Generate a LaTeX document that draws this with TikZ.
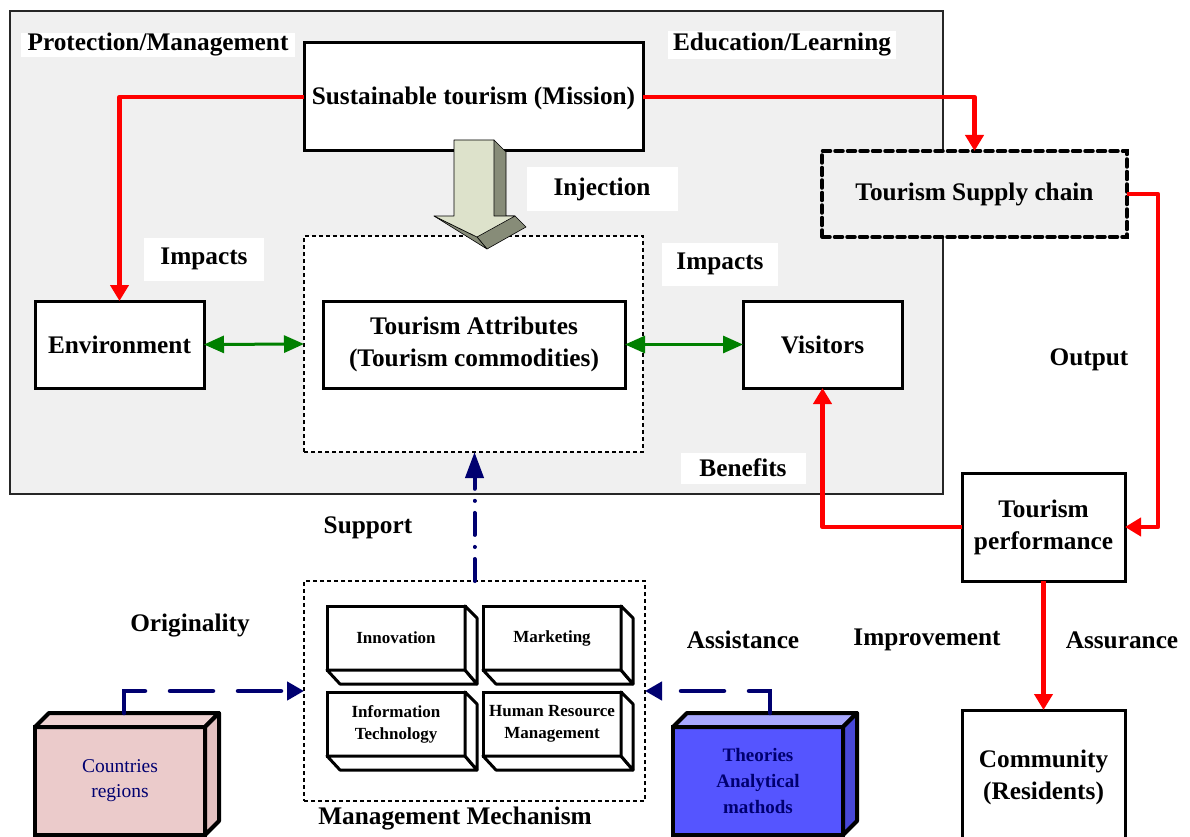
\documentclass[tikz,border=0pt]{standalone}
\usepackage{fontspec}
\setmainfont{Liberation Serif}
\usetikzlibrary{arrows.meta,calc}
\definecolor{bggrey}{HTML}{F0F0F0}
\definecolor{myred}{HTML}{FF0000}
\definecolor{mygreen}{HTML}{008000}
\definecolor{navy}{HTML}{000070}
\definecolor{arrlight}{HTML}{DDE2CB}
\definecolor{arrdark}{HTML}{878C78}
\definecolor{pinkf}{HTML}{EBCBCB}
\definecolor{pinkt}{HTML}{EFD3D3}
\definecolor{pinkr}{HTML}{E2C0C0}
\definecolor{bluef}{HTML}{5555FF}
\definecolor{bluet}{HTML}{A8A8FF}
\definecolor{bluer}{HTML}{4848D8}
\newcommand\bigtxt{\fontsize{25.3}{32}\selectfont\bfseries}
\newcommand\smalltxt{\fontsize{17}{22}\selectfont\bfseries}
\begin{document}
\begin{tikzpicture}[x=1pt,y=-1pt,
  mainbox/.style={draw=black,line width=3pt,fill=white,rectangle,align=center,inner sep=0pt,outer sep=0pt,font=\bigtxt},
  dotbox/.style={draw=black,line width=2pt,dash pattern=on 4pt off 3pt,fill=white,rectangle,inner sep=0pt,outer sep=0pt},
  lbl/.style={font=\bigtxt,inner sep=0pt,align=center},
  wlbl/.style={lbl,fill=white},
  subbox/.style={draw=black,line width=3pt,fill=white,rectangle,align=center,inner sep=0pt,outer sep=0pt,font=\smalltxt,minimum width=138pt,minimum height=64pt},
  redarr/.style={draw=myred,line width=4.5pt,line join=round,-{Triangle[length=16pt,width=18pt]}},
  greenarr/.style={draw=mygreen,line width=3pt,{Triangle[length=20pt,width=17pt]}-{Triangle[length=20pt,width=17pt]}},
  navydash/.style={draw=navy,line width=4.5pt,line cap=round,dash pattern=on 43pt off 25pt,-{Triangle[length=17pt,width=18pt]}},
  navydot/.style={draw=navy,line width=4pt,line cap=round,dash pattern=on 22pt off 12pt on 0.1pt off 12pt,-{Triangle[length=26pt,width=18pt]}}
]
\useasboundingbox (0,0) rectangle (1190,837);
\fill[white] (0,0) rectangle (1190,837);

% grey background panel
\draw[fill=bggrey,draw=black!85,line width=1.3pt] (10,11) rectangle (943,494);

% labels with white background
\node[wlbl,minimum width=274pt,minimum height=24pt] (lpm) at (158,45) {Protection/Management};
\node[wlbl,minimum width=228pt,minimum height=28pt] (lel) at (782,45) {Education/Learning};
\node[wlbl,minimum width=151pt,minimum height=43pt] (linj) at (602,189) {Injection};
\node[wlbl,minimum width=120pt,minimum height=43pt] (limp1) at (204,259) {Impacts};
\node[wlbl,minimum width=116pt,minimum height=43pt] (limp2) at (720,264) {Impacts};
\node[wlbl,minimum width=125pt,minimum height=31pt] (lben) at (743,468) {Benefits};

% main boxes
\node[mainbox,minimum width=339pt,minimum height=108pt,text height=20pt,text depth=4pt] (mis) at (473.5,97) {Sustainable tourism (Mission)};
\node[draw=black,line width=3.5pt,dash pattern=on 8pt off 4.5pt,line cap=round,fill=bggrey,inner sep=0pt,outer sep=0pt,font=\bigtxt,minimum width=305pt,minimum height=86pt] (sup) at (974.5,194) {Tourism Supply chain};
\node[dotbox,minimum width=339pt,minimum height=216pt] (attro) at (473.5,344) {};
\node[mainbox,minimum width=302pt,minimum height=87pt] (attr) at (474,344.5) {Tourism Attributes\\(Tourism commodities)};
\node[mainbox,minimum width=169pt,minimum height=87pt] (env) at (119.5,344.5) {Environment};
\node[mainbox,minimum width=159pt,minimum height=87pt] (vis) at (822.5,344.5) {Visitors};
\node[mainbox,minimum width=163pt,minimum height=108pt] (perf) at (1043.5,527) {Tourism\\performance};
\node[mainbox,minimum width=163pt,minimum height=130pt,text depth=0pt] (com) at (1043.5,775) {Community\\(Residents)};

% 3D injection arrow
\fill[arrdark,draw=black,line width=0.6pt,line join=round] (494,140) -- (506,152) -- (506,216) -- (515,216) -- (526,227) -- (487,249) -- (477,237) -- cycle;
\fill[arrdark,draw=black,line width=0.6pt,line join=round] (434,216) -- (477,237) -- (487,249) -- cycle;
\fill[arrlight,draw=black,line width=0.6pt,line join=round] (454,140) -- (494,140) -- (494,216) -- (515,216) -- (477,237) -- (434,216) -- (454,216) -- cycle;

% plain labels
\node[lbl] (lout) at (1089,360) {Output};
\node[lbl] (lsup) at (368,528) {Support};
\node[lbl] (lori) at (190,626) {Originality};
\node[lbl] (lass) at (743,640) {Assistance};
\node[lbl] (limpr) at (927,640) {Improvement};
\node[lbl] (lassu) at (1122,640) {Assurance};

% management mechanism
\node[dotbox,minimum width=341pt,minimum height=220pt] (mgmt) at (474.5,691) {};
\node[lbl] (lmm) at (455,819) {Management Mechanism};
\node[subbox] (inno) at (396,638) {Innovation};
\node[subbox] (mark) at (552,638) {Marketing};
\node[subbox] (it) at (396,724) {Information\\Technology};
\node[subbox] (hrm) at (552,724) {Human Resource\\Management};
\foreach \n in {inno,mark,it,hrm}{
  \draw[line width=3pt,fill=white,line join=round] (\n.south west) -- ($(\n.south west)+(13,14)$) -- ($(\n.south east)+(12,14)$) -- (\n.south east) -- cycle;
  \draw[line width=3pt,fill=white,line join=round] (\n.north east) -- ($(\n.north east)+(12,12)$) -- ($(\n.south east)+(12,14)$) -- (\n.south east) -- cycle;
}

% countries and theories 3D boxes
\node[draw=black,line width=4pt,fill=pinkf,inner sep=0pt,outer sep=0pt,minimum width=170pt,minimum height=108pt,align=center,font=\fontsize{19.5}{25}\selectfont,text=navy] (cty) at (120,781) {Countries\\regions};
\draw[line width=4pt,fill=pinkt,line join=round] (cty.north west) -- ($(cty.north west)+(14,-14)$) -- ($(cty.north east)+(14,-14)$) -- (cty.north east) -- cycle;
\draw[line width=4pt,fill=pinkr,line join=round] (cty.north east) -- ($(cty.north east)+(14,-14)$) -- ($(cty.south east)+(14,-14)$) -- (cty.south east) -- cycle;
\node[draw=black,line width=4pt,fill=bluef,inner sep=0pt,outer sep=0pt,minimum width=170pt,minimum height=108pt,align=center,font=\fontsize{19}{26}\selectfont\bfseries,text=navy] (thy) at (758,781) {Theories\\Analytical\\mathods};
\draw[line width=4pt,fill=bluet,line join=round] (thy.north west) -- ($(thy.north west)+(14,-14)$) -- ($(thy.north east)+(14,-14)$) -- (thy.north east) -- cycle;
\draw[line width=4pt,fill=bluer,line join=round] (thy.north east) -- ($(thy.north east)+(14,-14)$) -- ($(thy.south east)+(14,-14)$) -- (thy.south east) -- cycle;
\coordinate (ctytop) at (124,713);
\coordinate (thytop) at (770,713);

% red connectors
\coordinate (rc) at (1158,0);
\draw[redarr] (mis.west) -| (env.north);
\draw[redarr] (mis.east) -| (sup.north);
\draw[redarr] (sup.east) -- (sup.east -| rc) |- (perf.east);
\draw[redarr] (perf.west) -| (vis.south);
\draw[redarr] (perf.south) -- (com.north);

% green connectors
\draw[greenarr] (env.east) -- (attro.west);
\draw[greenarr] (attr.east) -- (vis.west);

% navy connectors
\draw[navydot] (mgmt.north) -- (mgmt.north |- attro.south);
\draw[navydash] (ctytop) |- (mgmt.west);
\draw[navydash] (thytop) |- (mgmt.east);
\end{tikzpicture}
\end{document}
